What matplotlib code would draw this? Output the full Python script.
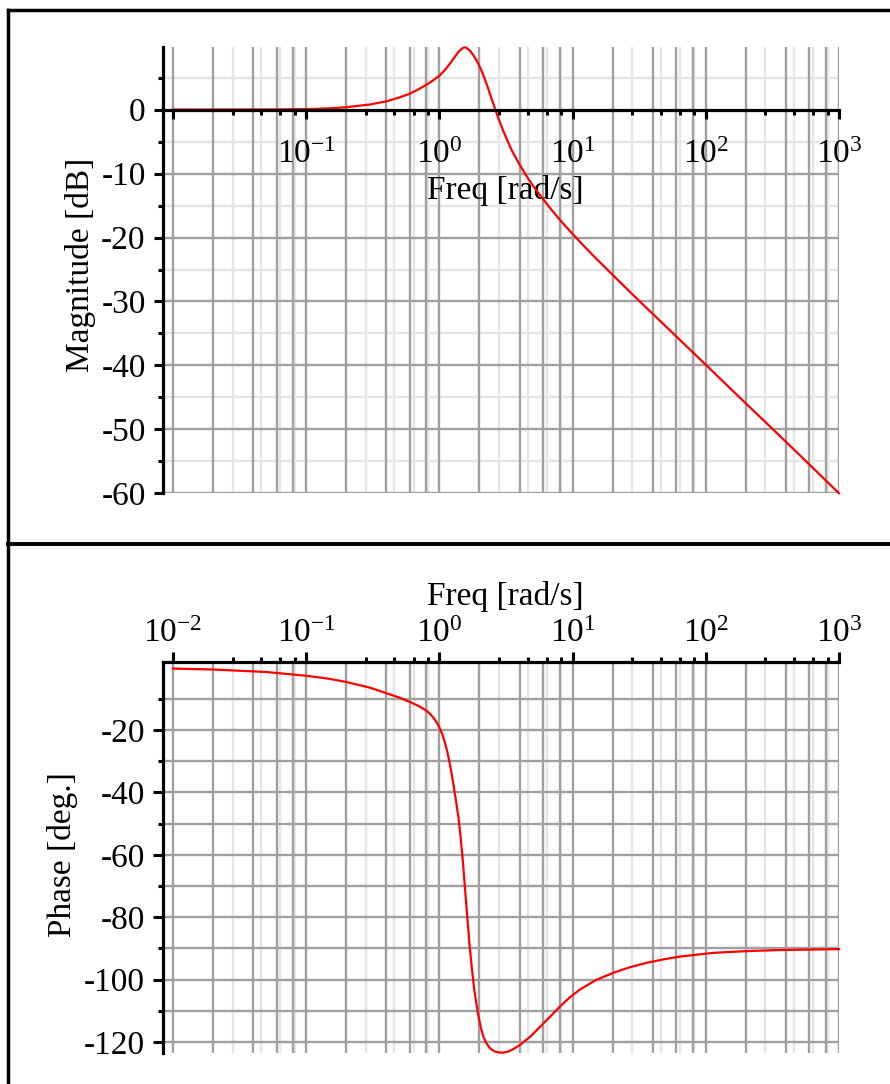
import numpy as np
import matplotlib
matplotlib.use('Agg')
import matplotlib.pyplot as plt
from matplotlib.ticker import FixedLocator, FixedFormatter, NullFormatter
from matplotlib.lines import Line2D

plt.rcParams['font.family'] = ['Liberation Serif', 'DejaVu Serif']
plt.rcParams['mathtext.fontset'] = 'custom'
plt.rcParams['mathtext.rm'] = 'Liberation Serif'
plt.rcParams['mathtext.it'] = 'Liberation Serif:italic'

# magnitude curve
mag_freq = [0.01, 0.03, 0.06, 0.1, 0.15, 0.2, 0.3, 0.4, 0.5, 0.6, 0.7, 0.8, 0.9,
            1.0, 1.1, 1.2, 1.3, 1.4, 1.5, 1.55, 1.6, 1.7, 1.8, 1.9, 2.0, 2.1,
            2.2, 2.3, 2.4, 2.5, 2.6, 2.8, 3.0, 3.2, 3.5, 4.0, 4.5, 5.0, 6.0, 7.0, 8.0,
            9.0, 10, 12, 14, 17, 22, 30, 40, 54, 75, 100, 150, 200, 300, 500, 1000]
mag_db = [0.0, 0.01, 0.03, 0.08, 0.2, 0.38, 0.8, 1.3, 1.9, 2.5, 3.2, 3.9, 4.6,
          5.3, 6.2, 7.2, 8.2, 9.1, 9.65, 9.75, 9.65, 9.2, 8.5, 7.7, 6.8, 5.8,
          4.7, 3.6, 2.4, 1.35, 0.3, -1.6, -3.2, -4.6, -6.4, -8.6, -10.35, -11.8, -14.0, -15.75, -17.2,
          -18.4, -19.45, -21.2, -22.65, -24.4, -26.7, -29.45, -31.95, -34.55, -37.4, -39.9, -43.45,
          -45.95, -49.45, -53.9, -60.0]

# phase curve
phase_freq = [0.01, 0.02, 0.05, 0.1, 0.15, 0.2, 0.3, 0.4, 0.5, 0.6, 0.7, 0.8, 0.85,
              0.9, 0.95, 1.0, 1.05, 1.1, 1.15, 1.2, 1.27, 1.33, 1.39, 1.44, 1.5,
              1.56, 1.62, 1.68, 1.75, 1.82, 1.9, 1.96, 2.05, 2.14, 2.25, 2.4,
              2.6, 2.8, 3.0, 3.3, 3.6, 4.0, 4.8, 5.7, 6.8, 8.0, 9.5, 11.4, 15, 20.2,
              27, 36, 48, 64, 114, 203, 360, 1000]
phase_deg = [-0.3, -0.6, -1.4, -2.6, -3.6, -4.6, -6.4, -8.2, -9.6, -11.0, -12.3, -13.8, -14.8,
             -16.0, -17.4, -19.2, -21.3, -24.0, -27.2, -31.0, -37.0, -42.5, -48.0, -54.0, -62.0,
             -71.3, -80.0, -88.5, -96.0, -102.7, -108.0, -111.5, -115.5, -118.3, -120.3, -122.0,
             -123.0, -123.35, -123.4, -123.0, -122.2, -121.0, -118.3, -115.1, -111.8, -108.7, -105.7, -103.1, -100.1, -97.8,
             -96.0, -94.6, -93.5, -92.6, -91.4, -90.85, -90.5, -90.2]

decades = [0.01, 0.1, 1, 10, 100, 1000]
decade_labels = [r'$10^{-2}$', r'$10^{-1}$', r'$10^{0}$', r'$10^{1}$', r'$10^{2}$', r'$10^{3}$']
mag_ticks = [0, -10, -20, -30, -40, -50, -60]
mag_tick_labels = ['0', '-10', '-20', '-30', '-40', '-50', '-60']
phase_ticks = [-20, -40, -60, -80, -100, -120]
phase_tick_labels = ['-20', '-40', '-60', '-80', '-100', '-120']

dark = '#a0a0a0'
light = '#e6e6e6'
red = '#ff0000'
fs = 24

dark_x = [d * m for d in decades[:-1] for m in (2, 4, 6, 8)] + decades
light_x = [d * m for d in decades[:-1] for m in (2.8, 4.6, 6.4, 8.2)]
xmin = 10 ** (-2 - 10 / 133.2)

fig = plt.figure(figsize=(8.9, 10.84), dpi=100)

# ---------- magnitude ----------
ax1 = fig.add_axes([163 / 890, 1 - 493.3 / 1084, 676 / 890, 446 / 1084])
ax1.set_xscale('log')
ax1.set_xlim(xmin, 1000)
ax1.set_ylim(-60, 9.75)
for v in range(5, -60, -10):
    ax1.axhline(v, color=light, lw=1.7, zorder=1)
for v in range(-10, -61, -10):
    ax1.axhline(v, color=dark, lw=1.7, zorder=1.2)
for x in light_x:
    ax1.axvline(x, color=light, lw=1.7, zorder=1.1)
for x in dark_x:
    ax1.axvline(x, color=dark, lw=1.7, zorder=1.3)
ax1.plot(mag_freq, mag_db, color=red, lw=1.6, zorder=3, clip_on=False)

for s in ['top', 'right']:
    ax1.spines[s].set_visible(False)
ax1.spines['bottom'].set_position(('data', 0))
for s in ['bottom', 'left']:
    ax1.spines[s].set_linewidth(2.3)
    ax1.spines[s].set_zorder(4)
ax1.xaxis.set_major_locator(FixedLocator(decades))
ax1.xaxis.set_major_formatter(FixedFormatter([''] + decade_labels[1:]))
ax1.xaxis.set_minor_locator(FixedLocator(light_x))
ax1.xaxis.set_minor_formatter(NullFormatter())
ax1.yaxis.set_major_locator(FixedLocator(mag_ticks))
ax1.yaxis.set_major_formatter(FixedFormatter(mag_tick_labels))
ax1.yaxis.set_minor_locator(FixedLocator(list(range(5, -60, -10))))
ax1.tick_params(which='major', length=6.5, width=2.2, labelsize=fs)
ax1.tick_params(which='minor', length=3.5, width=2.2)
ax1.tick_params(axis='x', which='major', pad=15)
ax1.tick_params(axis='y', which='major', pad=6)
ax1.set_xlabel('Freq [rad/s]', fontsize=fs)
ax1.xaxis.set_label_coords(0.506, 0.714)
ax1.set_ylabel('Magnitude [dB]', fontsize=fs)
ax1.yaxis.set_label_coords(-0.099, 0.512)

# ---------- phase ----------
ax2 = fig.add_axes([163 / 890, 1 - 1052.7 / 1084, 676 / 890, 391 / 1084])
ax2.set_xscale('log')
ax2.set_xlim(xmin, 1000)
ax2.set_ylim(-123.4, 1.9)
for v in range(-10, -121, -10):
    ax2.axhline(v, color=dark, lw=1.7, zorder=1.2)
for x in light_x:
    ax2.axvline(x, color=light, lw=1.7, zorder=1.1)
for x in dark_x:
    ax2.axvline(x, color=dark, lw=1.7, zorder=1.3)
ax2.plot(phase_freq, phase_deg, color=red, lw=1.6, zorder=3, clip_on=False)

for s in ['bottom', 'right']:
    ax2.spines[s].set_visible(False)
for s in ['top', 'left']:
    ax2.spines[s].set_linewidth(2.3)
    ax2.spines[s].set_zorder(4)
ax2.xaxis.set_ticks_position('top')
ax2.xaxis.set_label_position('top')
ax2.xaxis.set_major_locator(FixedLocator(decades))
ax2.xaxis.set_major_formatter(FixedFormatter(decade_labels))
ax2.xaxis.set_minor_locator(FixedLocator(light_x))
ax2.xaxis.set_minor_formatter(NullFormatter())
ax2.yaxis.set_major_locator(FixedLocator(phase_ticks))
ax2.yaxis.set_major_formatter(FixedFormatter(phase_tick_labels))
ax2.yaxis.set_minor_locator(FixedLocator(list(range(-10, -111, -20))))
ax2.tick_params(which='major', length=7, width=2.2, labelsize=fs)
ax2.tick_params(which='minor', length=3.5, width=2.2)
ax2.tick_params(axis='x', which='major', pad=2)
ax2.tick_params(axis='y', which='major', pad=6)
ax2.set_xlabel('Freq [rad/s]', fontsize=fs)
ax2.xaxis.set_label_coords(0.506, 1.145)
ax2.set_ylabel('Phase [deg.]', fontsize=fs)
ax2.yaxis.set_label_coords(-0.126, 0.506)

# frame lines around the two panels
fig.add_artist(Line2D([8 / 890, 1], [1 - 10 / 1084] * 2, color='black', lw=2.5))
fig.add_artist(Line2D([8 / 890] * 2, [0, 1 - 10 / 1084], color='black', lw=2.5))
fig.add_artist(Line2D([8 / 890, 1], [1 - 543.8 / 1084] * 2, color='black', lw=2.8))

fig.savefig('out.png', dpi=100)
